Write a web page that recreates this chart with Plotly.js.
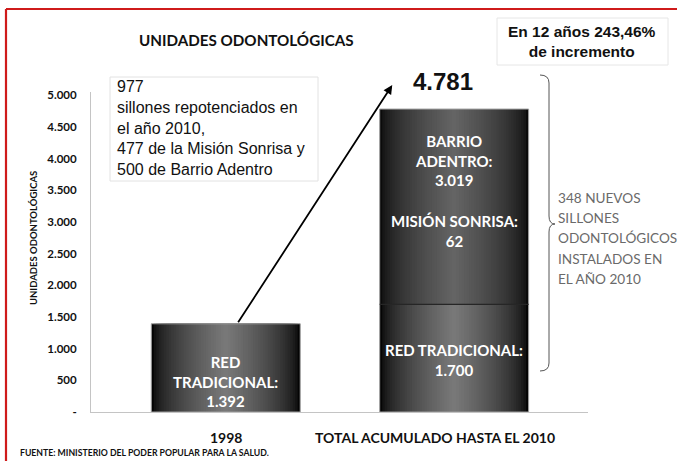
<!DOCTYPE html>
<html>
<head>
<meta charset="utf-8">
<script src="https://cdn.plot.ly/plotly-3.0.1.min.js"></script>
<style>html,body{margin:0;padding:0;background:#fff;}#chart{width:677px;height:461px;}</style>
</head>
<body>
<div id="chart"></div>
<script>
// ---- data ----
const categories = ['1998', 'TOTAL ACUMULADO HASTA EL 2010'];
const redTradicional = [1392, 1700];
const barrioAdentro = [0, 3019];
const misionSonrisa = [0, 62];
const yTickVals = [0, 500, 1000, 1500, 2000, 2500, 3000, 3500, 4000, 4500, 5000];
const yTickLabels = ['-', '500', '1.000', '1.500', '2.000', '2.500', '3.000', '3.500', '4.000', '4.500', '5.000'];
const chartTitle = 'UNIDADES ODONTOLÓGICAS';
const yTitle = 'UNIDADES ODONTOLÓGICAS';
const increaseNote = 'En 12 años 243,46%<br>de incremento';
const repotNote = '977<br>sillones repotenciados en<br>el año 2010,<br>477 de la Misión Sonrisa y<br>500 de Barrio Adentro';
const newNoteLines = ['348 NUEVOS', 'SILLONES', 'ODONTOLÓGICOS', 'INSTALADOS EN', 'EL AÑO 2010'];
const source = 'FUENTE: MINISTERIO DEL PODER POPULAR PARA LA SALUD.';

// ---- derived ----
const xIdx = categories.map((_, i) => i);
const topSeg = barrioAdentro.map((v, i) => v + misionSonrisa[i]);
const totals = redTradicional.map((v, i) => v + topSeg[i]);
const fmt = n => String(n).replace(/\B(?=(\d{3})+(?!\d))/g, '.');

const CAL = "'Lato', 'Open Sans', sans-serif";
const ARI = "'Liberation Sans', Arial, sans-serif";

// plot area in pixels
const L = 91, R = 588, T = 92, B = 412;
const px = x => (x - L) / (R - L);
const py = y => (B - y) / (B - T);

const BAR_W = 0.652;
const N = 30;
const grayCss = v => { const c = Math.max(0, Math.min(255, Math.round(v))); return `rgb(${c},${c},${c})`; };

const traces = [];
function addSegment(yvals, baseVals, edge, center, expo) {
  for (let k = 0; k < N; k++) {
    const frac = 1 - k / N;
    const t = k / (N - 1);
    traces.push({
      type: 'bar', x: xIdx, y: yvals, base: baseVals,
      width: BAR_W * frac,
      marker: { color: grayCss(edge + (center - edge) * Math.pow(t, expo)) },
      hoverinfo: 'skip', showlegend: false
    });
  }
}
addSegment(redTradicional, xIdx.map(() => 0), 4, 120, 0.6);
addSegment(topSeg.map(v => v > 0 ? v : null), redTradicional, 10, 100, 0.6);
// outlines
traces.push({
  type: 'bar', x: xIdx, y: totals, base: xIdx.map(() => 0), width: BAR_W,
  marker: { color: 'rgba(0,0,0,0)', line: { color: '#a0a0a0', width: 1 } },
  hoverinfo: 'skip', showlegend: false
});
traces.push({
  type: 'bar', x: xIdx, y: topSeg.map(v => v > 0 ? 0.001 : null), base: redTradicional, width: BAR_W,
  marker: { color: 'rgba(0,0,0,0)', line: { color: '#262626', width: 1.2 } },
  hoverinfo: 'skip', showlegend: false
});

const white = { family: CAL, size: 15, color: '#ffffff', weight: 'bold' };
const annotations = [
  { xref: 'paper', yref: 'paper', x: px(246), y: py(40), text: chartTitle, showarrow: false,
    xanchor: 'center', yanchor: 'middle', font: { family: CAL, size: 15.2, color: '#111', weight: 'bold' } },
  { xref: 'paper', yref: 'paper', x: px(582), y: py(41.5), text: increaseNote, showarrow: false,
    xanchor: 'center', yanchor: 'middle', font: { family: ARI, size: 15.5, color: '#111', weight: 'bold' } },
  { xref: 'x', yref: 'y', x: 1, y: totals[1], xshift: -11, yshift: 28, text: fmt(totals[1]), showarrow: false,
    xanchor: 'center', yanchor: 'middle', font: { family: ARI, size: 24, color: '#111', weight: 'bold' } },
  { xref: 'paper', yref: 'paper', x: px(115), y: py(128), text: repotNote, showarrow: false, align: 'left',
    xanchor: 'left', yanchor: 'middle', font: { family: ARI, size: 16, color: '#111' } },
  ...newNoteLines.map((ln, i) => ({ xref: 'paper', yref: 'paper', x: px(556), y: py(198 + i * 20.2), text: ln, showarrow: false,
    xanchor: 'left', yanchor: 'middle', font: { family: CAL, size: 13.6, color: '#6a6a6a' } })),
  // bar labels
  { xref: 'x', yref: 'paper', x: 0, y: py(381), text: 'RED<br>TRADICIONAL:<br>' + fmt(redTradicional[0]), showarrow: false,
    xanchor: 'center', yanchor: 'middle', font: white },
  { xref: 'x', yref: 'paper', x: 1, y: py(160), text: 'BARRIO<br>ADENTRO:<br>' + fmt(barrioAdentro[1]), showarrow: false,
    xanchor: 'center', yanchor: 'middle', font: white },
  { xref: 'x', yref: 'paper', x: 1, y: py(231), text: 'MISIÓN SONRISA:<br>' + fmt(misionSonrisa[1]), showarrow: false,
    xanchor: 'center', yanchor: 'middle', font: white },
  { xref: 'x', yref: 'paper', x: 1, y: py(360), text: 'RED TRADICIONAL:<br>' + fmt(redTradicional[1]), showarrow: false,
    xanchor: 'center', yanchor: 'middle', font: white },
  // category labels
  ...categories.map((c, i) => ({ xref: 'x', yref: 'paper', x: i, xshift: i === 1 ? -19 : 0, y: py(437), text: c, showarrow: false,
    xanchor: 'center', yanchor: 'middle', font: { family: CAL, size: 14, color: '#111', weight: 'bold' } })),
  { xref: 'paper', yref: 'paper', x: px(18), y: py(452), text: source, showarrow: false,
    xanchor: 'left', yanchor: 'middle', font: { family: CAL, size: 8.7, color: '#111', weight: 'bold' } },
  { xref: 'paper', yref: 'paper', x: px(33), y: py(238), text: yTitle, showarrow: false, textangle: -90,
    xanchor: 'center', yanchor: 'middle', font: { family: CAL, size: 9.5, color: '#111', weight: 'bold' } },
  // arrow
  { xref: 'x', yref: 'y', x: 0.729, y: 5160, axref: 'x', ayref: 'y', ax: 0.05, ay: redTradicional[0],
    text: '', showarrow: true, arrowhead: 2, arrowsize: 1, arrowwidth: 1.8, arrowcolor: '#000' }
];

const shapes = [
  { type: 'line', xref: 'paper', yref: 'paper', x0: px(6), x1: px(677), y0: py(9), y1: py(9), line: { color: '#cf1b1b', width: 2.2 } },
  { type: 'line', xref: 'paper', yref: 'paper', x0: px(6), x1: px(6), y0: py(9), y1: py(461), line: { color: '#cf1b1b', width: 2.2 } },
  { type: 'rect', xref: 'paper', yref: 'paper', x0: px(497), x1: px(668), y0: py(18), y1: py(65), line: { color: '#e6e6e6', width: 1 } },
  { type: 'rect', xref: 'paper', yref: 'paper', x0: px(110), x1: px(318), y0: py(77), y1: py(181), line: { color: '#e2e2e2', width: 1 } },
  { type: 'path', xref: 'paper', yref: 'paper',
    path: `M ${px(540)},${py(75)} Q ${px(549)},${py(75)} ${px(549)},${py(83)} L ${px(549)},${py(216)} Q ${px(549)},${py(224)} ${px(555)},${py(224)} Q ${px(549)},${py(224)} ${px(549)},${py(232)} L ${px(549)},${py(363)} Q ${px(549)},${py(371)} ${px(540)},${py(371)}`,
    line: { color: '#555', width: 1 } }
];

const layout = {
  width: 677, height: 461,
  margin: { l: L, r: 677 - R, t: T, b: 461 - B, pad: 0 },
  paper_bgcolor: '#fff', plot_bgcolor: '#fff',
  barmode: 'overlay',
  showlegend: false,
  xaxis: { range: [-0.59, 1.586], showticklabels: false, ticks: '', showgrid: false, zeroline: false,
    showline: true, linecolor: '#c4c4c4', linewidth: 1, fixedrange: true },
  yaxis: { range: [0, 5050], tickvals: yTickVals, ticktext: yTickLabels, ticks: '', ticklabelstandoff: 11,
    showgrid: false, zeroline: false, showline: true, linecolor: '#c4c4c4', linewidth: 1,
    tickfont: { family: CAL, size: 11.5, color: '#111', weight: 'bold' }, fixedrange: true },
  annotations, shapes
};

Plotly.newPlot('chart', traces, layout, { displayModeBar: false, staticPlot: true });
</script>
</body>
</html>
